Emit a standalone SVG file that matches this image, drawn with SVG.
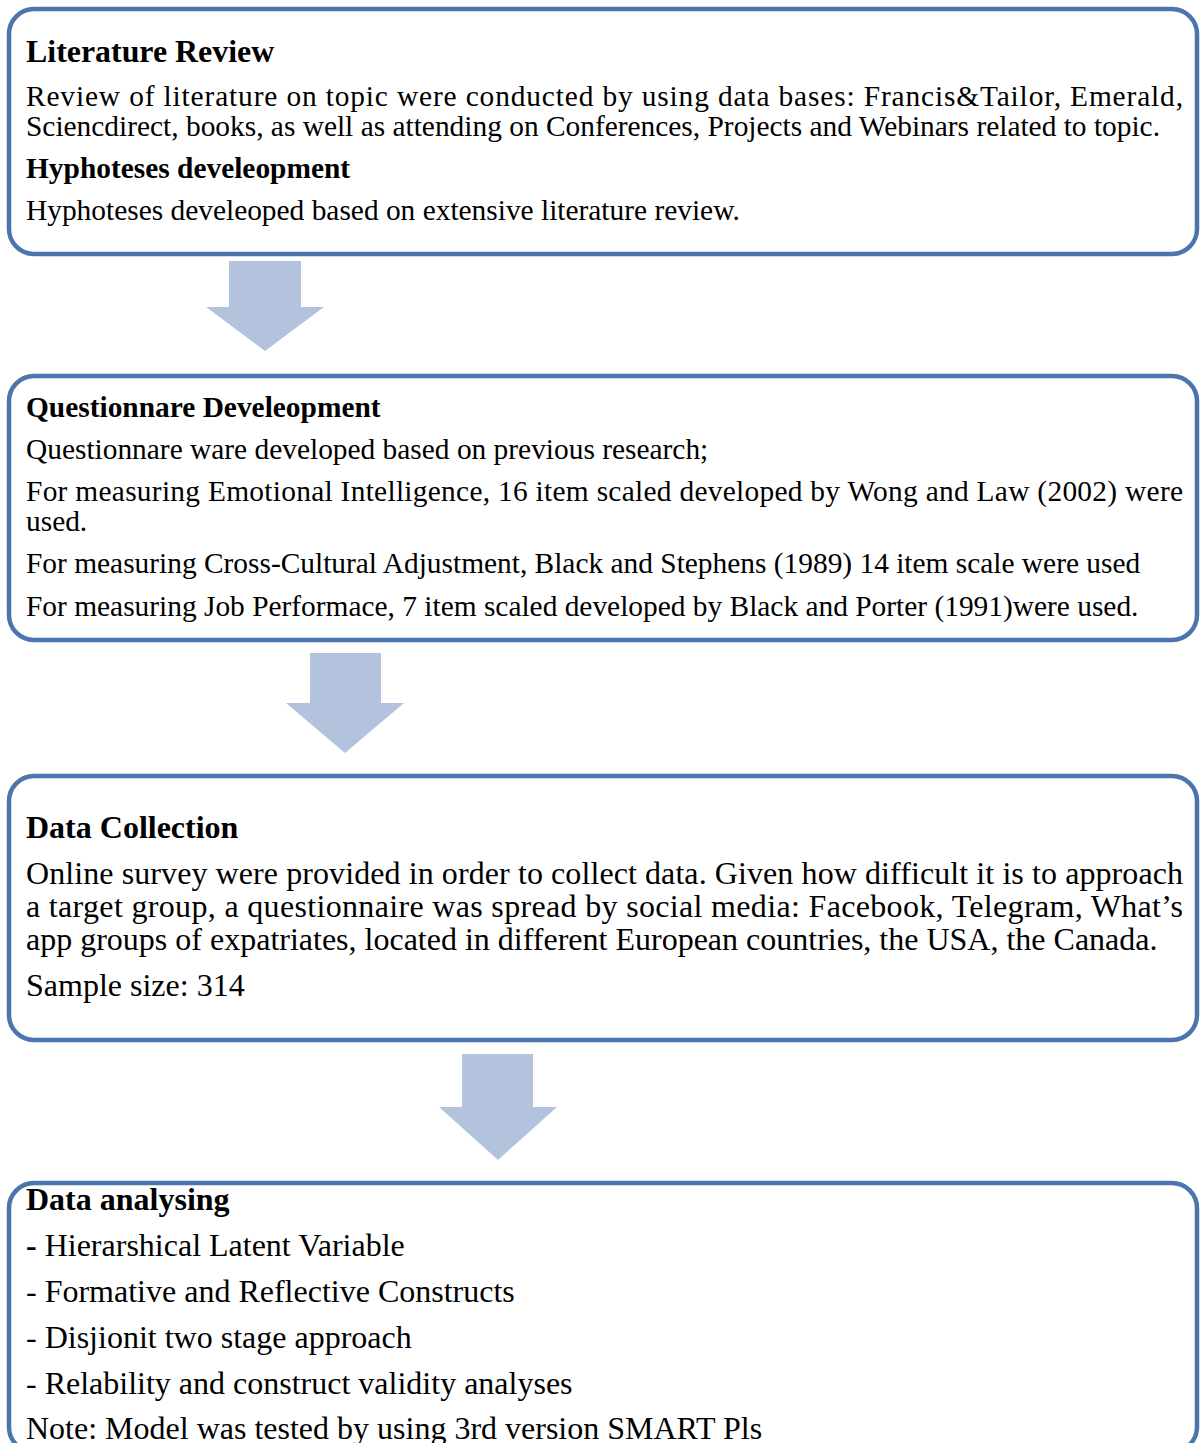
<svg xmlns="http://www.w3.org/2000/svg" width="1201" height="1443" viewBox="0 0 1201 1443">
  <style>
    .box { fill: #ffffff; stroke: #4A76AD; stroke-width: 4.5; }
    .arrow { fill: #B3C3DE; stroke: none; }
    text { font-family: "Liberation Serif", "Times New Roman", serif; fill: #000000; }
    .h { font-weight: bold; }
    .s1 { font-size: 29.4px; }
    .s1t { font-size: 31.9px; }
    .s2 { font-size: 32px; }
  </style>
  <rect x="0" y="0" width="1201" height="1443" fill="#ffffff"/>

  <!-- flow arrows between stages -->
  <g id="connectors">
    <polygon class="arrow" points="229,261 301,261 301,307 324,307 265,351 206,307 229,307"/>
    <polygon class="arrow" points="310,653 381,653 381,703 404,703 345,753 286,703 310,703"/>
    <polygon class="arrow" points="462,1054 533,1054 533,1107 557,1107 498,1160 439,1107 462,1107"/>
  </g>

  <g id="literature-review">
    <rect class="box" x="9" y="9" width="1188" height="245" rx="25" ry="25"/>
    <text class="h s1t" x="26" y="62">Literature Review</text>
    <text class="s1" x="26" y="106" textLength="1157" lengthAdjust="spacing">Review of literature on topic were conducted by using data bases: Francis&amp;Tailor, Emerald,</text>
    <text class="s1" x="26" y="136">Sciencdirect, books, as well as attending on Conferences, Projects and Webinars related to topic.</text>
    <text class="h s1" x="26" y="178">Hyphoteses develeopment</text>
    <text class="s1" x="26" y="220">Hyphoteses develeoped based on extensive literature review.</text>
  </g>

  <g id="questionnaire-development">
    <rect class="box" x="9" y="376" width="1188" height="264" rx="25" ry="25"/>
    <text class="h s1" x="26" y="417">Questionnare Develeopment</text>
    <text class="s1" x="26" y="459">Questionnare ware developed based on previous research;</text>
    <text class="s1" x="26" y="501" textLength="1157" lengthAdjust="spacing">For measuring Emotional Intelligence, 16 item scaled developed by Wong and Law (2002) were</text>
    <text class="s1" x="26" y="531">used.</text>
    <text class="s1" x="26" y="573">For measuring Cross-Cultural Adjustment, Black and Stephens (1989) 14 item scale were used</text>
    <text class="s1" x="26" y="616">For measuring Job Performace, 7 item scaled developed by Black and Porter (1991)were used.</text>
  </g>

  <g id="data-collection">
    <rect class="box" x="9" y="776" width="1188" height="264" rx="25" ry="25"/>
    <text class="h s2" x="26" y="838">Data Collection</text>
    <text class="s2" x="26" y="884" textLength="1157" lengthAdjust="spacing">Online survey were provided in order to collect data. Given how difficult it is to approach</text>
    <text class="s2" x="26" y="917" textLength="1157" lengthAdjust="spacing">a target group, a questionnaire was spread by social media: Facebook, Telegram, What’s</text>
    <text class="s2" x="26" y="950">app groups of expatriates, located in different European countries, the USA, the Canada.</text>
    <text class="s2" x="26" y="996">Sample size: 314</text>
  </g>

  <g id="data-analysing">
    <rect class="box" x="9" y="1183" width="1188" height="269" rx="25" ry="25"/>
    <text class="h s2" x="26" y="1210">Data analysing</text>
    <text class="s2" x="26" y="1256"><tspan class="h">-</tspan> Hierarshical Latent Variable</text>
    <text class="s2" x="26" y="1302">- Formative and Reflective Constructs</text>
    <text class="s2" x="26" y="1348">- Disjionit two stage approach</text>
    <text class="s2" x="26" y="1394">- Relability and construct validity analyses</text>
    <text class="s2" x="26" y="1439">Note: Model was tested by using 3rd version SMART Pls</text>
  </g>
</svg>
